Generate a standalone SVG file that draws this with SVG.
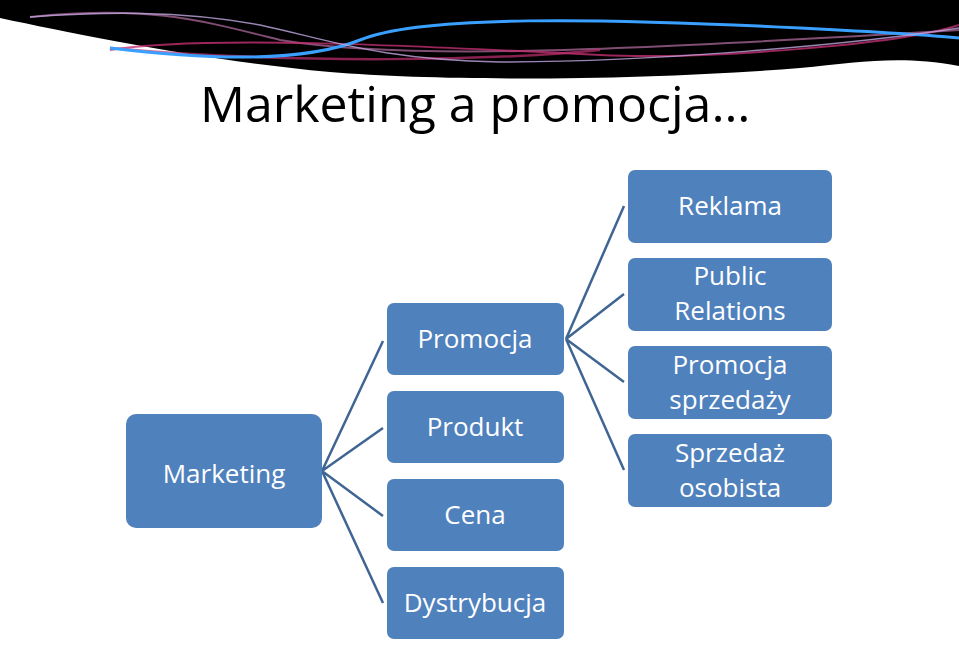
<svg xmlns="http://www.w3.org/2000/svg" width="959" height="645" viewBox="0 0 959 645">
<style>
.n{fill:#4f81bd;}
.t{fill:#fff;font-family:"Open Sans","Liberation Sans",sans-serif;font-size:26px;text-anchor:middle;}
.c{stroke:#3f6593;stroke-width:2.5;fill:none;}
</style>
<rect width="959" height="645" fill="#fff"/>
<g id="banner">
<path d="M0,0 H959 V66 C900,55 860,62 800,68 C650,80 450,82 330,72 C200,60 80,35 0,18 Z" fill="#000"/>
<path d="M30,17 C150,5 200,20 280,40 C400,60 600,52 959,30" stroke="#a06090" stroke-width="2" fill="none" opacity="0.8"/>
<path d="M110,50 C200,35 400,45 600,55 C700,60 900,45 959,25" stroke="#c03070" stroke-width="2" fill="none" opacity="0.8"/>
<path d="M110,48 C300,65 500,60 600,50" stroke="#c03070" stroke-width="2.5" fill="none" opacity="0.7"/>
<path d="M110,48 C250,65 320,56 360,40 C420,15 600,18 800,28 C880,32 930,35 959,38" stroke="#3aa0ff" stroke-width="3" fill="none"/>
<path d="M30,17 C100,12 180,10 260,25 C330,40 380,60 500,62 C650,62 850,45 959,28" stroke="#c0a8e0" stroke-width="1.5" fill="none" opacity="0.8"/>
</g>
<text x="200" y="122" font-family="Open Sans, Liberation Sans, sans-serif" font-size="50" fill="#000">Marketing a promocja…</text>
<g id="connectors">
<path class="c" d="M322,471 L383,341 M322,471 L383,428 M322,471 L383,516 M322,471 L383,603"/>
<path class="c" d="M566,339 L624,206 M566,339 L624,294 M566,339 L624,382 M566,339 L624,470"/>
</g>
<g id="marketing"><rect class="n" x="126" y="414" width="196" height="114" rx="10"/><text class="t" x="224" y="483" font-size="34">Marketing</text></g>
<g id="promocja"><rect class="n" x="387" y="303" width="177" height="72" rx="7"/><text class="t" x="475" y="348">Promocja</text></g>
<g id="produkt"><rect class="n" x="387" y="391" width="177" height="72" rx="7"/><text class="t" x="475" y="436">Produkt</text></g>
<g id="cena"><rect class="n" x="387" y="479" width="177" height="72" rx="7"/><text class="t" x="475" y="524">Cena</text></g>
<g id="dystrybucja"><rect class="n" x="387" y="567" width="177" height="72" rx="7"/><text class="t" x="475" y="612">Dystrybucja</text></g>
<g id="reklama"><rect class="n" x="628" y="170" width="204" height="73" rx="7"/><text class="t" x="730" y="215">Reklama</text></g>
<g id="pr"><rect class="n" x="628" y="258" width="204" height="73" rx="7"/><text class="t" x="730" y="285">Public</text><text class="t" x="730" y="320">Relations</text></g>
<g id="ps"><rect class="n" x="628" y="346" width="204" height="73" rx="7"/><text class="t" x="730" y="374">Promocja</text><text class="t" x="730" y="409">sprzedaży</text></g>
<g id="so"><rect class="n" x="628" y="434" width="204" height="73" rx="7"/><text class="t" x="730" y="462">Sprzedaż</text><text class="t" x="730" y="497">osobista</text></g>
</svg>
